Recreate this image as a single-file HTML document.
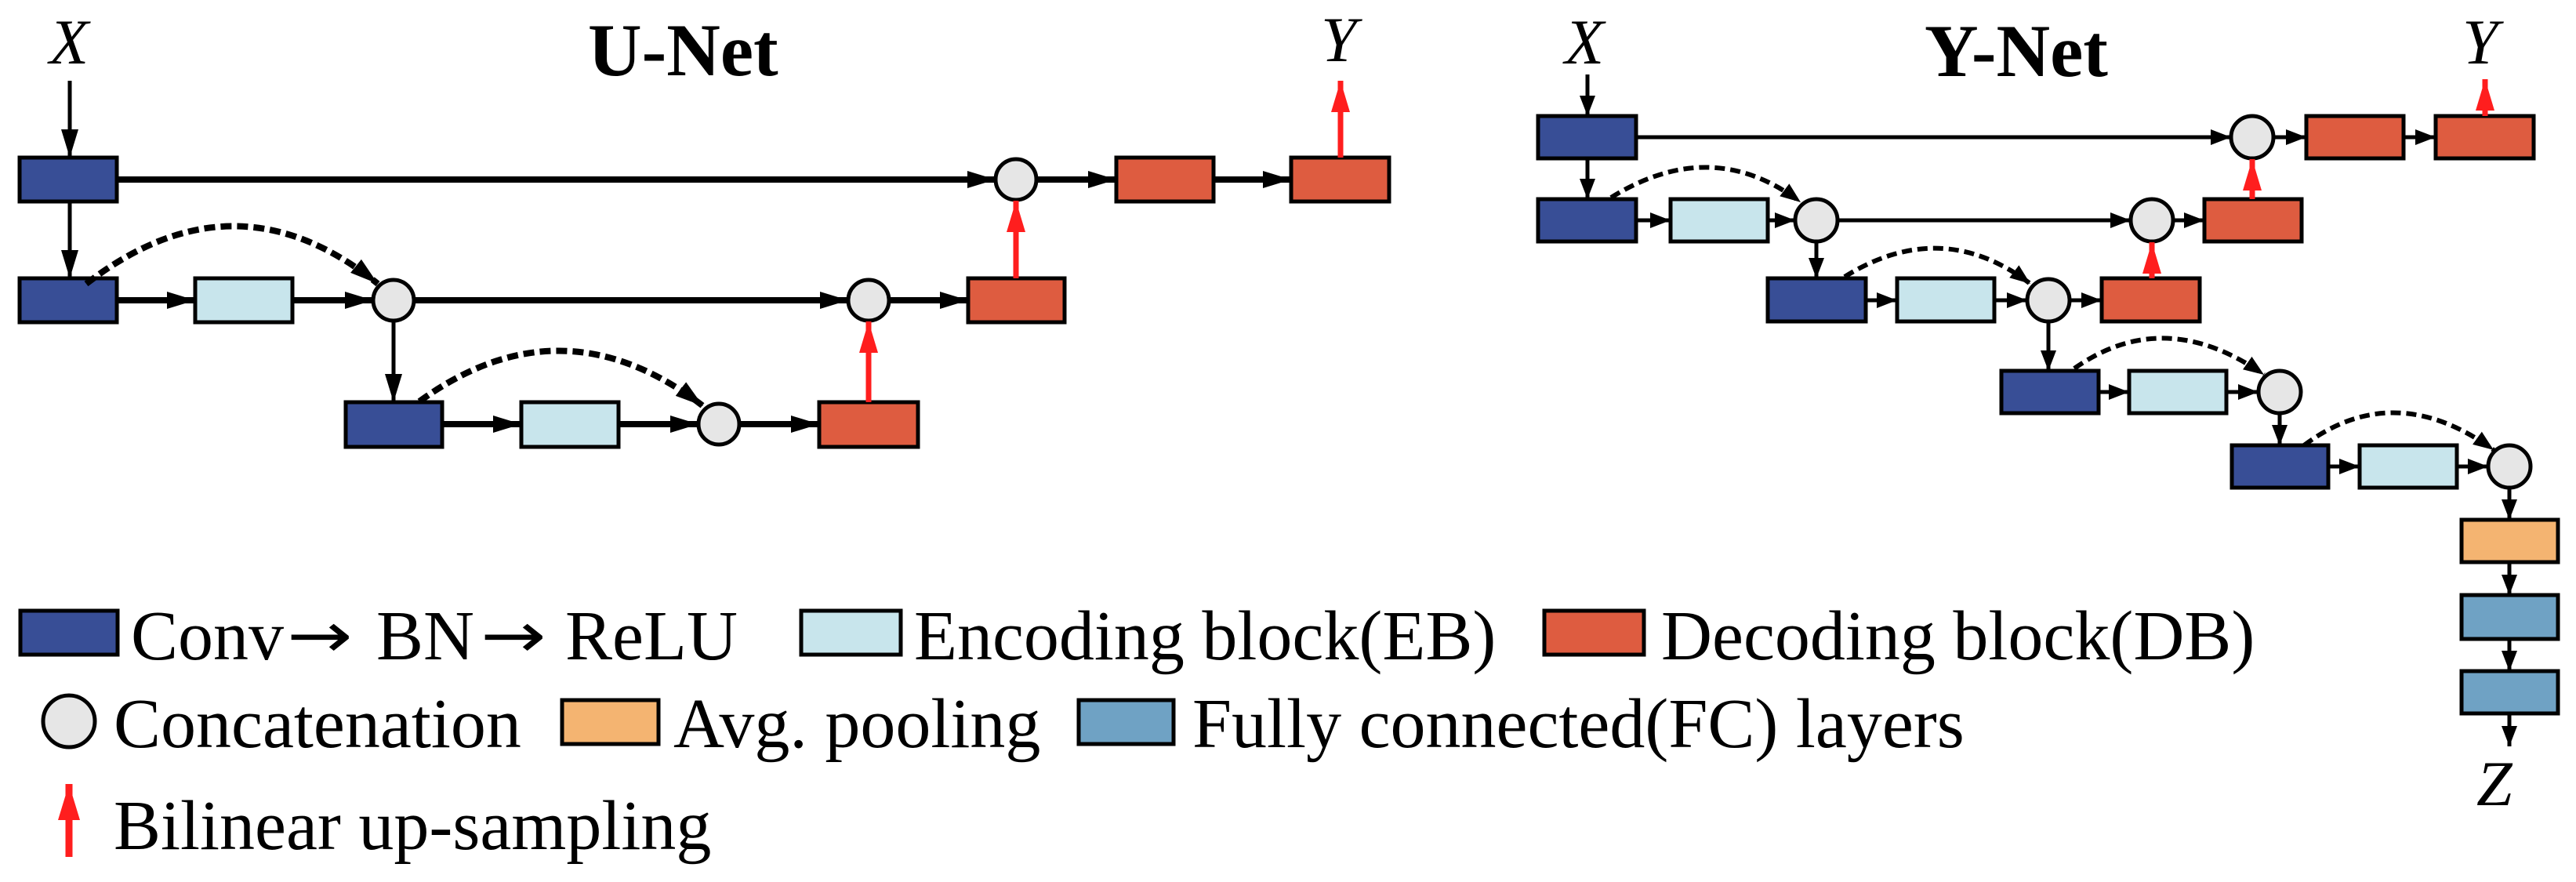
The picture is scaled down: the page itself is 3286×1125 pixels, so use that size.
<!DOCTYPE html>
<html><head><meta charset="utf-8"><style>html,body{margin:0;padding:0;background:#fff}svg{display:block}</style></head>
<body>
<svg width="3286" height="1125" viewBox="0 0 3286 1125" xmlns="http://www.w3.org/2000/svg" font-family="'Liberation Serif', serif">
<defs>
<marker id="ub" markerUnits="userSpaceOnUse" markerWidth="40" markerHeight="24" refX="36" refY="11" orient="auto"><path d="M0,0 L36,11 L0,22 z" fill="#000"/></marker>
<marker id="yb" markerUnits="userSpaceOnUse" markerWidth="30" markerHeight="22" refX="26" refY="10" orient="auto"><path d="M0,0 L26,10 L0,20 z" fill="#000"/></marker>
<marker id="rd" markerUnits="userSpaceOnUse" markerWidth="44" markerHeight="26" refX="40" refY="12" orient="auto"><path d="M0,0 L40,12 L0,24 z" fill="#ff1e1e"/></marker>
<marker id="rdl" markerUnits="userSpaceOnUse" markerWidth="50" markerHeight="30" refX="46" refY="14" orient="auto"><path d="M0,0 L46,14 L0,28 z" fill="#ff1e1e"/></marker>
</defs>
<g stroke="#000" stroke-width="5">
<rect x="25" y="201" width="124" height="56" fill="#384e96"/>
<rect x="25" y="355" width="124" height="56" fill="#384e96"/>
<rect x="249" y="355" width="124" height="56" fill="#c8e5ec"/>
<rect x="1235" y="355" width="123" height="56" fill="#de5c40"/>
<rect x="1424" y="201" width="124" height="56" fill="#de5c40"/>
<rect x="1647" y="201" width="125" height="56" fill="#de5c40"/>
<rect x="441" y="513" width="123" height="57" fill="#384e96"/>
<rect x="665" y="513" width="124" height="57" fill="#c8e5ec"/>
<rect x="1045" y="513" width="126" height="57" fill="#de5c40"/>
<circle cx="502" cy="383" r="26" fill="#e6e6e6"/>
<circle cx="1108" cy="383" r="26" fill="#e6e6e6"/>
<circle cx="1296" cy="229" r="26" fill="#e6e6e6"/>
<circle cx="917" cy="541" r="26" fill="#e6e6e6"/>
<rect x="1962" y="148" width="125" height="54" fill="#384e96"/>
<rect x="2942" y="148" width="124" height="54" fill="#de5c40"/>
<rect x="3107" y="148" width="125" height="54" fill="#de5c40"/>
<rect x="1962" y="254" width="125" height="54" fill="#384e96"/>
<rect x="2131" y="254" width="124" height="54" fill="#c8e5ec"/>
<rect x="2812" y="254" width="124" height="54" fill="#de5c40"/>
<rect x="2255" y="355" width="125" height="55" fill="#384e96"/>
<rect x="2420" y="355" width="124" height="55" fill="#c8e5ec"/>
<rect x="2681" y="355" width="125" height="55" fill="#de5c40"/>
<rect x="2553" y="473" width="124" height="54" fill="#384e96"/>
<rect x="2716" y="473" width="124" height="54" fill="#c8e5ec"/>
<rect x="2847" y="568" width="123" height="54" fill="#384e96"/>
<rect x="3010" y="568" width="124" height="54" fill="#c8e5ec"/>
<rect x="3140" y="663" width="123" height="54" fill="#f4b471"/>
<rect x="3140" y="759" width="123" height="56" fill="#6fa2c4"/>
<rect x="3140" y="856" width="123" height="54" fill="#6fa2c4"/>
<circle cx="2873" cy="175" r="27" fill="#e6e6e6"/>
<circle cx="2317" cy="281" r="27" fill="#e6e6e6"/>
<circle cx="2745" cy="281" r="27" fill="#e6e6e6"/>
<circle cx="2613" cy="383" r="27" fill="#e6e6e6"/>
<circle cx="2908" cy="500" r="27" fill="#e6e6e6"/>
<circle cx="3201" cy="595" r="27" fill="#e6e6e6"/>
<rect x="26" y="779" width="124" height="56" fill="#384e96"/>
<rect x="1022" y="779" width="127" height="56" fill="#c8e5ec"/>
<rect x="1970" y="779" width="127" height="56" fill="#de5c40"/>
<circle cx="88" cy="920" r="33" fill="#e6e6e6"/>
<rect x="717" y="893" width="123" height="56" fill="#f4b471"/>
<rect x="1376" y="893" width="121" height="56" fill="#6fa2c4"/>
</g>
<g stroke="#000" fill="none">
<line x1="89" y1="103" x2="89" y2="201" stroke-width="5" marker-end="url(#ub)"/>
<line x1="89" y1="257" x2="89" y2="355" stroke-width="5" marker-end="url(#ub)"/>
<line x1="149" y1="229" x2="1270" y2="229" stroke-width="8" marker-end="url(#ub)"/>
<line x1="1322" y1="229" x2="1424" y2="229" stroke-width="8" marker-end="url(#ub)"/>
<line x1="1548" y1="229" x2="1647" y2="229" stroke-width="8" marker-end="url(#ub)"/>
<line x1="149" y1="383" x2="249" y2="383" stroke-width="8" marker-end="url(#ub)"/>
<line x1="373" y1="383" x2="476" y2="383" stroke-width="8" marker-end="url(#ub)"/>
<line x1="528" y1="383" x2="1082" y2="383" stroke-width="8" marker-end="url(#ub)"/>
<line x1="1134" y1="383" x2="1235" y2="383" stroke-width="8" marker-end="url(#ub)"/>
<line x1="502" y1="409" x2="502" y2="513" stroke-width="5" marker-end="url(#ub)"/>
<line x1="564" y1="541" x2="665" y2="541" stroke-width="8" marker-end="url(#ub)"/>
<line x1="789" y1="541" x2="891" y2="541" stroke-width="8" marker-end="url(#ub)"/>
<line x1="943" y1="541" x2="1045" y2="541" stroke-width="8" marker-end="url(#ub)"/>
<path d="M110,362 Q300,215 482,362" stroke-width="8" stroke-dasharray="14,7" marker-end="url(#ub)"/>
<path d="M535,512 Q717,380 897,518" stroke-width="8" stroke-dasharray="14,7" marker-end="url(#ub)"/>
</g>
<g stroke="#ff1e1e" stroke-width="7" fill="none">
<line x1="1710" y1="201" x2="1710" y2="103" marker-end="url(#rd)"/>
<line x1="1296" y1="355" x2="1296" y2="256" marker-end="url(#rd)"/>
<line x1="1108" y1="513" x2="1108" y2="410" marker-end="url(#rd)"/>
<line x1="2873" y1="254" x2="2873" y2="203" marker-end="url(#rd)"/>
<line x1="2745" y1="355" x2="2745" y2="309" marker-end="url(#rd)"/>
<line x1="3170" y1="148" x2="3170" y2="101" marker-end="url(#rd)"/>
<line x1="88" y1="1093" x2="88" y2="1000" stroke-width="9" marker-end="url(#rdl)"/>
</g>
<g stroke="#000" fill="none" stroke-width="5">
<line x1="2025" y1="95" x2="2025" y2="148" marker-end="url(#yb)"/>
<line x1="2025" y1="202" x2="2025" y2="254" marker-end="url(#yb)"/>
<line x1="2087" y1="175" x2="2846" y2="175" marker-end="url(#yb)"/>
<line x1="2900" y1="175" x2="2942" y2="175" marker-end="url(#yb)"/>
<line x1="3066" y1="175" x2="3107" y2="175" marker-end="url(#yb)"/>
<line x1="2087" y1="281" x2="2131" y2="281" marker-end="url(#yb)"/>
<line x1="2255" y1="281" x2="2290" y2="281" marker-end="url(#yb)"/>
<line x1="2344" y1="281" x2="2718" y2="281" marker-end="url(#yb)"/>
<line x1="2772" y1="281" x2="2812" y2="281" marker-end="url(#yb)"/>
<line x1="2317" y1="308" x2="2317" y2="355" marker-end="url(#yb)"/>
<line x1="2380" y1="383" x2="2420" y2="383" marker-end="url(#yb)"/>
<line x1="2544" y1="383" x2="2586" y2="383" marker-end="url(#yb)"/>
<line x1="2640" y1="383" x2="2681" y2="383" marker-end="url(#yb)"/>
<line x1="2613" y1="410" x2="2613" y2="473" marker-end="url(#yb)"/>
<line x1="2677" y1="500" x2="2716" y2="500" marker-end="url(#yb)"/>
<line x1="2840" y1="500" x2="2881" y2="500" marker-end="url(#yb)"/>
<line x1="2908" y1="527" x2="2908" y2="568" marker-end="url(#yb)"/>
<line x1="2970" y1="595" x2="3010" y2="595" marker-end="url(#yb)"/>
<line x1="3134" y1="595" x2="3174" y2="595" marker-end="url(#yb)"/>
<line x1="3201" y1="622" x2="3201" y2="663" marker-end="url(#yb)"/>
<line x1="3201" y1="717" x2="3201" y2="759" marker-end="url(#yb)"/>
<line x1="3201" y1="815" x2="3201" y2="856" marker-end="url(#yb)"/>
<line x1="3201" y1="910" x2="3201" y2="952" marker-end="url(#yb)"/>
<g stroke-width="6" stroke-dasharray="13,7">
<path d="M2055,252 Q2184,172 2297,258" marker-end="url(#yb)"/>
<path d="M2353,353 Q2477,276 2590,362" marker-end="url(#yb)"/>
<path d="M2646,470 Q2761,389 2888,478" marker-end="url(#yb)"/>
<path d="M2939,568 Q3054,482 3181,574" marker-end="url(#yb)"/>
</g>
</g>
<g fill="#000">
<text x="63" y="81" font-size="82" font-style="italic">X</text>
<text x="750" y="96" font-size="95" font-weight="bold">U-Net</text>
<text x="1685" y="78" font-size="82" font-style="italic">Y</text>
<text x="1996" y="81" font-size="82" font-style="italic">X</text>
<text x="2455" y="97" font-size="95" font-weight="bold">Y-Net</text>
<text x="3141" y="81" font-size="82" font-style="italic">Y</text>
<text x="3159" y="1027" font-size="82" font-style="italic">Z</text>
<g font-size="90">
<text x="167" y="841">Conv</text>
<text x="366" y="838" font-family="'DejaVu Sans', sans-serif" font-size="100" transform="translate(366 838) scale(1 0.8) translate(-366 -838)">→</text>
<text x="480" y="841">BN</text>
<text x="613" y="838" font-family="'DejaVu Sans', sans-serif" font-size="100" transform="translate(613 838) scale(1 0.8) translate(-613 -838)">→</text>
<text x="721" y="841">ReLU</text>
<text x="1166" y="841">Encoding block(EB)</text>
<text x="2119" y="841">Decoding block(DB)</text>
<text x="145" y="953">Concatenation</text>
<text x="859" y="953">Avg. pooling</text>
<text x="1521" y="953">Fully connected(FC) layers</text>
<text x="145" y="1083">Bilinear up-sampling</text>
</g>
</g>
</svg>
</body></html>
